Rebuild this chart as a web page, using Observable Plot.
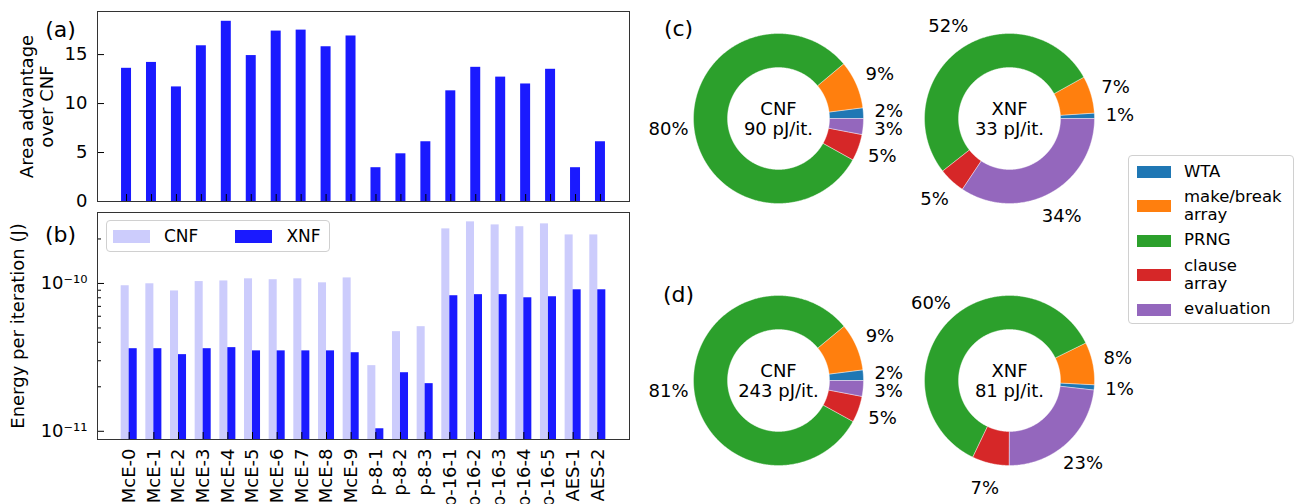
<!DOCTYPE html>
<html>
<head>
<meta charset="utf-8">
<script src="https://cdn.jsdelivr.net/npm/d3@7"></script>
<script src="https://cdn.jsdelivr.net/npm/@observablehq/plot@0.6"></script>
<style>
  body { margin: 0; background: #fff; font-family: "DejaVu Sans", sans-serif; }
  #fig { position: relative; width: 1294px; height: 504px; overflow: hidden; background: #fff; }
  #fig > * { position: absolute; }
  .legend-box { box-sizing: border-box; border: 1px solid #d0d0d0; border-radius: 4px; background: rgba(255,255,255,0.85); color: #000; }
  .swatch { display: inline-block; flex: none; }
</style>
</head>
<body>
<div id="fig"></div>
<script>
// ---- benchmark instances ----
const categories = ["McE-0", "McE-1", "McE-2", "McE-3", "McE-4", "McE-5", "McE-6", "McE-7", "McE-8", "McE-9",
  "p-8-1", "p-8-2", "p-8-3", "p-16-1", "p-16-2", "p-16-3", "p-16-4", "p-16-5", "AES-1", "AES-2"];

// (a) area advantage of XNF over CNF
const areaAdvantage = [13.6, 14.2, 11.7, 15.9, 18.4, 14.9, 17.4, 17.5, 15.8, 16.9,
  3.45, 4.87, 6.1, 11.3, 13.7, 12.7, 12.0, 13.5, 3.45, 6.1];
const areaTicks = [0, 5, 10, 15];
const areaLimits = [0, 19.4];

// (b) energy per iteration (J)
const energyCNF = [9.65e-11, 9.95e-11, 8.9e-11, 1.03e-10, 1.04e-10, 1.075e-10, 1.06e-10, 1.075e-10, 1.01e-10, 1.09e-10,
  2.78e-11, 4.72e-11, 5.1e-11, 2.34e-10, 2.61e-10, 2.49e-10, 2.42e-10, 2.53e-10, 2.13e-10, 2.13e-10];
const energyXNF = [3.62e-11, 3.62e-11, 3.3e-11, 3.62e-11, 3.68e-11, 3.5e-11, 3.5e-11, 3.5e-11, 3.5e-11, 3.4e-11,
  1.04e-11, 2.49e-11, 2.1e-11, 8.26e-11, 8.4e-11, 8.4e-11, 8.0e-11, 8.13e-11, 9.06e-11, 9.06e-11];
const energyLimits = [8.8e-12, 3.02e-10];
const energyMajorTicks = [1e-11, 1e-10];
const energyMinorTicks = [2e-11, 3e-11, 4e-11, 5e-11, 6e-11, 7e-11, 8e-11, 9e-11, 2e-10];
const seriesNames = ["CNF", "XNF"];
const seriesColors = ["#ccccfc", "#1a1aff"];

// (c), (d) energy breakdown by block (%)
const parts = ["WTA", "make/break\narray", "PRNG", "clause\narray", "evaluation"];
const partColors = ["#1f77b4", "#ff7f0e", "#2ca02c", "#d62728", "#9467bd"];
const sharesCnfC = [2, 9, 80, 5, 3];
const sharesXnfC = [1, 7, 52, 5, 34];
const sharesCnfD = [2, 9, 81, 5, 3];
const sharesXnfD = [1, 8, 60, 7, 23];
const donutNames = ["CNF", "XNF", "CNF", "XNF"];
const donutEnergy = [90, 33, 243, 81]; // pJ per iteration

const FONT = '"DejaVu Sans", sans-serif';
const fig = document.getElementById("fig");
function place(node, left, top) {
  node.style.left = left + "px";
  node.style.top = top + "px";
  fig.appendChild(node);
  return node;
}
const baseStyle = {fontFamily: FONT, fontSize: "18px", color: "black", background: "transparent", overflow: "visible"};

const SUP = {"-": "\u207B", "0": "\u2070", "1": "\u00B9", "2": "\u00B2", "3": "\u00B3", "4": "\u2074",
  "5": "\u2075", "6": "\u2076", "7": "\u2077", "8": "\u2078", "9": "\u2079"};
const powerOfTen = (d) => "10" + String(Math.round(Math.log10(d))).replace(/./g, (c) => SUP[c]);

// ---- panel (a) ----
const areaRows = categories.map((c, i) => ({category: c, value: areaAdvantage[i]}));
const plotA = Plot.plot({
  width: 640, height: 205,
  marginLeft: 97, marginRight: 11, marginTop: 11, marginBottom: 4,
  style: baseStyle,
  x: {type: "band", domain: categories, paddingInner: 0.6, paddingOuter: 0.964, round: false},
  y: {domain: areaLimits},
  marks: [
    Plot.barY(areaRows, {x: "category", y: "value", fill: seriesColors[1]}),
    Plot.axisY({ticks: areaTicks, tickSize: -7, tickPadding: 17, label: null}),
    Plot.axisX({tickSize: -7, tickFormat: () => "", label: null}),
    Plot.frame({stroke: "#333"}),
    Plot.text(["Area advantage\nover CNF"], {text: (d) => d, frameAnchor: "left", textAnchor: "middle", rotate: -90, dx: -61, lineHeight: 1.1}),
    Plot.text(["(a)"], {text: (d) => d, frameAnchor: "top-left", textAnchor: "middle", dx: -37, dy: 10, fontSize: 22})
  ]
});
place(plotA, 0, 0);

// ---- panel (b) ----
const energyRows = categories.map((c, i) => ({category: c, cnf: energyCNF[i], xnf: energyXNF[i]}));
const plotB = Plot.plot({
  width: 640, height: 300,
  marginLeft: 97, marginRight: 11, marginTop: 8, marginBottom: 65,
  style: baseStyle,
  x: {type: "band", domain: categories, paddingInner: 0.35, paddingOuter: 0.96, round: false},
  y: {type: "log", domain: energyLimits},
  marks: [
    Plot.barY(energyRows, {x: "category", y1: energyLimits[0], y2: "cnf", fill: seriesColors[0], insetRight: 8}),
    Plot.barY(energyRows, {x: "category", y1: energyLimits[0], y2: "xnf", fill: seriesColors[1], insetLeft: 8}),
    Plot.axisY({ticks: energyMinorTicks, tickSize: -4, tickFormat: () => "", label: null}),
    Plot.axisY({ticks: energyMajorTicks, tickSize: -7, tickPadding: 17, tickFormat: powerOfTen, label: null}),
    Plot.axisX({tickSize: -7, tickPadding: 16, tickRotate: -90, label: null}),
    Plot.frame({stroke: "#333"}),
    Plot.text(["Energy per iteration (J)"], {text: (d) => d, frameAnchor: "left", textAnchor: "middle", rotate: -90, dx: -79.5}),
    Plot.text(["(b)"], {text: (d) => d, frameAnchor: "top-left", textAnchor: "middle", dx: -37, dy: 14, fontSize: 22})
  ]
});
place(plotB, 0, 204);

// legend of panel (b)
const legB = document.createElement("div");
legB.className = "legend-box";
legB.style.cssText += "width:224px;height:32px;display:flex;align-items:center;font-size:17px;";
seriesNames.forEach((name, i) => {
  const sw = document.createElement("span");
  sw.className = "swatch";
  sw.style.cssText = `width:37px;height:13px;background:${seriesColors[i]};margin-left:${i ? 37 : 6}px;margin-right:14px;`;
  const tx = document.createElement("span");
  tx.textContent = name;
  legB.append(sw, tx);
});
place(legB, 106, 220);

// ---- panels (c), (d): donut breakdowns ----
const OUTER = 1, INNER = 0.6, LABEL_R = 1.3;
const HALF = 135, PX_PER_UNIT = 85;
const donutShares = [sharesCnfC, sharesXnfC, sharesCnfD, sharesXnfD];
const donutStart = [0, 0, 0, -6.5]; // degrees, counterclockwise from east
const donutCenters = [[778, 118], [1009, 118], [778, 380], [1009, 380]];
const donutPanel = ["(c)", null, "(d)", null];

function donut(k) {
  const shares = donutShares[k];
  const total = d3.sum(shares);
  const start = donutStart[k] * Math.PI / 180;
  const ring = [], labels = [];
  let cum = 0;
  shares.forEach((v, i) => {
    const a0 = start + 2 * Math.PI * cum / total;
    cum += v;
    const a1 = start + 2 * Math.PI * cum / total;
    const n = Math.max(2, Math.ceil((a1 - a0) / (Math.PI / 360)));
    const angles = d3.range(n + 1).map((j) => a0 + (a1 - a0) * j / n);
    const pts = angles.map((a) => [OUTER * Math.cos(a), OUTER * Math.sin(a)])
      .concat(angles.slice().reverse().map((a) => [INNER * Math.cos(a), INNER * Math.sin(a)]));
    pts.push(pts[0]);
    pts.forEach(([x, y]) => ring.push({part: parts[i], x, y}));
    const mid = (a0 + a1) / 2;
    labels.push({x: LABEL_R * Math.cos(mid), y: LABEL_R * Math.sin(mid), text: `${v}%`});
  });
  const lim = HALF / PX_PER_UNIT;
  const marks = [
    Plot.line(ring, {x: "x", y: "y", z: "part", fill: "part", stroke: "white", strokeWidth: 0.4}),
    Plot.text(labels, {x: "x", y: "y", text: "text"}),
    Plot.text([`${donutNames[k]}\n${donutEnergy[k]} pJ/it.`], {text: (d) => d, frameAnchor: "middle", lineHeight: 1.1})
  ];
  if (donutPanel[k]) {
    marks.push(Plot.text([donutPanel[k]], {text: (d) => d, frameAnchor: "top-left", textAnchor: "middle", dx: 35, dy: k < 2 ? 37 : 41, fontSize: 22}));
  }
  const svg = Plot.plot({
    width: 2 * HALF, height: 2 * HALF,
    margin: 0,
    style: baseStyle,
    x: {domain: [-lim, lim], axis: null},
    y: {domain: [-lim, lim], axis: null},
    color: {domain: parts, range: partColors},
    marks
  });
  const [cx, cy] = donutCenters[k];
  place(svg, cx - HALF, cy - HALF);
}
donutShares.forEach((_, k) => donut(k));

// legend of the breakdown blocks
const legC = document.createElement("div");
legC.className = "legend-box";
legC.style.cssText += "width:166px;height:169px;padding:6.5px 0 0 8px;font-size:16.5px;line-height:18.5px;display:flex;flex-direction:column;gap:6.7px;";
parts.forEach((p, i) => {
  const row = document.createElement("div");
  row.style.cssText = "display:flex;align-items:center;";
  const sw = document.createElement("span");
  sw.className = "swatch";
  sw.style.cssText = `width:34px;height:12px;background:${partColors[i]};margin-right:13px;`;
  const tx = document.createElement("span");
  tx.style.whiteSpace = "pre";
  tx.textContent = p;
  row.append(sw, tx);
  legC.appendChild(row);
});
place(legC, 1128, 155);
</script>
</body>
</html>
